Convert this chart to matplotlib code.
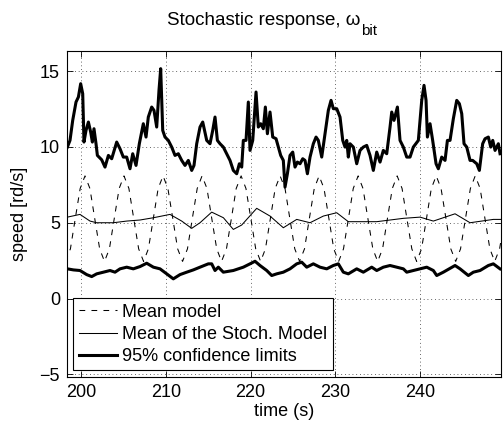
import numpy as np
import matplotlib
matplotlib.use("Agg")
import matplotlib.pyplot as plt

plt.rcParams['font.family'] = ['Liberation Sans', 'DejaVu Sans']

# mean model (dashed)
t_model = [198.17, 198.75, 199.32, 199.90, 200.47, 201.05, 201.62, 202.20, 202.77, 203.35,
           203.92, 204.50, 205.07, 205.65, 206.22, 206.80, 207.38, 207.95, 208.53, 209.10,
           209.68, 210.25, 210.83, 211.40, 211.98, 212.56, 213.13, 213.71, 214.28, 214.86,
           215.43, 216.01, 216.58, 217.16, 217.74, 218.31, 218.89, 219.46, 220.04, 220.61,
           221.19, 221.76, 222.34, 222.91, 223.49, 224.07, 224.64, 225.22, 225.79, 226.37,
           226.94, 227.52, 228.09, 228.67, 229.25, 229.82, 230.40, 230.97, 231.55, 232.12,
           232.70, 233.27, 233.85, 234.43, 235.00, 235.58, 236.15, 236.73, 237.30, 237.88,
           238.45, 239.03, 239.60, 240.18, 240.76, 241.33, 241.91, 242.48, 243.06, 243.63,
           244.21, 244.78, 245.36, 245.94, 246.51, 247.09, 247.66, 248.24, 248.81, 249.39,
           249.96]
v_model = [2.45, 3.28, 5.27, 7.26, 8.09, 7.26, 5.27, 3.28, 2.45, 3.28,
           5.27, 7.26, 8.09, 7.26, 5.27, 3.28, 2.45, 3.28, 5.27, 7.26,
           8.09, 7.26, 5.27, 3.28, 2.45, 3.28, 5.27, 7.26, 8.09, 7.26,
           5.27, 3.28, 2.45, 3.28, 5.27, 7.26, 8.09, 7.26, 5.27, 3.28,
           2.45, 3.28, 5.27, 7.26, 8.09, 7.26, 5.27, 3.28, 2.45, 3.28,
           5.27, 7.26, 8.09, 7.26, 5.27, 3.28, 2.45, 3.28, 5.27, 7.26,
           8.09, 7.26, 5.27, 3.28, 2.45, 3.28, 5.27, 7.26, 8.09, 7.26,
           5.27, 3.28, 2.45, 3.28, 5.27, 7.26, 8.09, 7.26, 5.27, 3.28,
           2.45, 3.28, 5.27, 7.26, 8.09, 7.26, 5.27, 3.28, 2.45, 3.28,
           5.27]

# mean of the stochastic model (thin)
t_mean = [198.39, 199.88, 201.06, 201.85, 203.81, 205.39, 206.96, 208.54, 210.50, 211.88,
          213.06, 214.04, 215.42, 216.80, 217.97, 218.96, 220.73, 222.30, 223.87, 225.45,
          227.02, 228.59, 230.17, 231.54, 234.89, 238.03, 240.00, 241.57, 244.13, 245.90,
          248.65, 249.67]
v_mean = [5.37, 5.55, 5.11, 5.00, 5.00, 5.11, 5.18, 5.33, 5.55, 5.11,
          4.63, 5.00, 5.70, 5.33, 4.56, 4.85, 5.95, 5.44, 4.67, 5.22,
          5.00, 5.44, 5.66, 5.07, 5.07, 5.29, 5.37, 5.11, 5.59, 5.00,
          5.22, 5.22]

# upper 95% limit
t_up = [198.39, 198.70, 199.02, 199.41, 199.69, 199.96, 200.20, 200.35, 200.59, 200.87,
        201.14, 201.34, 201.53, 201.77, 201.93, 202.44, 202.83, 203.23, 203.62, 204.21,
        204.60, 204.99, 205.39, 205.78, 206.10, 206.49, 206.88, 207.35, 207.67, 207.94,
        208.34, 208.61, 208.93, 209.20, 209.40, 209.64, 209.91, 210.30, 210.70, 211.09,
        211.48, 211.88, 212.27, 212.66, 213.06, 213.33, 213.65, 214.04, 214.36, 214.83,
        215.22, 215.54, 215.81, 216.09, 216.40, 216.79, 217.19, 217.58, 217.97, 218.37,
        218.68, 218.96, 219.15, 219.47, 219.74, 219.94, 220.26, 220.65, 220.92, 221.20,
        221.51, 221.75, 221.99, 222.30, 222.62, 223.01, 223.28, 223.56, 223.87, 224.07,
        224.35, 224.66, 224.98, 225.25, 225.53, 225.84, 226.16, 226.43, 226.71, 227.02,
        227.41, 227.73, 228.00, 228.40, 228.79, 229.18, 229.50, 229.77, 230.17, 230.56,
        230.88, 231.15, 231.35, 231.54, 231.74, 232.13, 232.53, 232.92, 233.31, 233.71,
        234.10, 234.49, 234.89, 235.28, 235.67, 236.07, 236.46, 236.66, 236.93, 237.33,
        237.64, 238.03, 238.43, 238.82, 239.21, 239.80, 240.20, 240.47, 240.71, 240.87,
        241.18, 241.49, 241.89, 242.16, 242.56, 242.95, 243.23, 243.54, 243.93, 244.33,
        244.64, 244.92, 245.19, 245.51, 245.90, 246.21, 246.69, 247.00, 247.39, 247.67,
        248.06, 248.34, 248.58, 248.85, 249.24, 249.44]
v_up = [9.99, 10.43, 11.75, 12.96, 13.29, 14.17, 13.51, 10.32, 11.09, 11.64,
        10.98, 10.32, 11.20, 10.21, 9.44, 9.15, 8.67, 9.44, 9.22, 10.32,
        9.88, 9.33, 9.33, 8.56, 9.55, 8.78, 10.21, 11.53, 10.65, 11.97,
        12.63, 12.41, 11.31, 13.73, 15.16, 11.09, 10.65, 10.43, 9.99, 9.44,
        9.55, 9.11, 8.78, 9.11, 8.45, 8.78, 10.21, 11.31, 11.64, 10.43,
        10.21, 11.09, 11.97, 10.43, 10.21, 9.99, 9.55, 9.11, 8.45, 8.23,
        8.89, 8.67, 10.43, 10.43, 12.96, 9.77, 10.43, 13.62, 11.31, 11.53,
        11.20, 12.63, 10.87, 12.30, 10.65, 10.54, 9.99, 9.44, 9.11, 7.35,
        8.23, 9.44, 9.66, 8.67, 9.00, 8.89, 9.22, 9.11, 8.23, 9.33,
        10.21, 10.65, 10.43, 9.33, 10.87, 12.41, 13.07, 12.52, 12.52, 11.97,
        10.43, 9.99, 10.43, 9.33, 10.21, 9.99, 8.89, 9.77, 9.99, 10.10,
        9.44, 8.45, 9.66, 9.00, 9.77, 9.55, 11.31, 12.30, 11.75, 12.63,
        10.43, 9.99, 9.33, 9.33, 9.99, 10.43, 13.07, 14.06, 13.07, 10.65,
        11.53, 10.43, 8.89, 8.56, 9.33, 9.11, 10.43, 10.43, 11.86, 13.07,
        12.85, 12.19, 10.21, 9.99, 9.11, 9.11, 8.89, 8.45, 10.21, 10.54,
        10.65, 9.99, 10.43, 9.77, 10.21, 9.55]

# lower 95% limit
t_low = [198.39, 199.10, 199.88, 200.67, 201.26, 201.85, 202.64, 203.42, 204.01, 204.60,
         205.39, 206.17, 206.96, 207.75, 208.54, 209.32, 210.11, 210.89, 211.68, 212.47,
         213.25, 214.04, 215.02, 215.42, 215.81, 216.20, 216.79, 217.97, 219.15, 219.94,
         220.53, 221.12, 221.91, 222.50, 223.09, 223.87, 224.66, 225.45, 226.04, 226.63,
         227.41, 228.20, 228.99, 229.77, 230.36, 230.95, 231.54, 232.53, 233.31, 234.30,
         234.89, 235.67, 236.46, 237.25, 238.03, 238.43, 239.21, 240.00, 240.79, 241.57,
         241.97, 242.75, 244.13, 244.72, 245.70, 246.29, 247.08, 248.06, 248.65, 249.44]
v_low = [1.96, 1.89, 1.85, 1.58, 1.45, 1.63, 1.74, 1.85, 1.74, 1.96,
         2.07, 1.96, 2.11, 2.33, 2.07, 1.96, 1.63, 1.30, 1.58, 1.74,
         1.89, 2.07, 2.29, 2.29, 1.85, 2.07, 1.74, 1.85, 2.07, 2.29,
         2.46, 2.18, 1.85, 1.52, 1.63, 1.74, 1.96, 2.29, 2.40, 2.07,
         2.29, 2.07, 1.96, 2.18, 2.29, 1.74, 1.63, 1.96, 1.74, 2.07,
         1.85, 2.07, 2.18, 2.07, 1.96, 1.74, 1.85, 1.96, 2.07, 1.85,
         1.52, 1.74, 2.18, 1.96, 1.52, 1.74, 1.85, 2.18, 2.29, 1.96]

xticks = [200, 210, 220, 230, 240]
yticks = [-5, 0, 5, 10, 15]

fig = plt.figure(figsize=(5.04, 4.29), dpi=100)
ax = fig.add_axes([0.133, 0.122, 0.861, 0.760])

ax.plot(t_model, v_model, color='k', lw=0.75, linestyle=(0, (5.5, 6)), label='Mean model')
ax.plot(t_mean, v_mean, color='k', lw=0.75, label='Mean of the Stoch. Model')
ax.plot(t_up, v_up, color='k', lw=2.2, label='95% confidence limits')
ax.plot(t_low, v_low, color='k', lw=2.2)

ax.set_xlim(198.35, 249.55)
ax.set_ylim(-5.15, 16.35)
ax.set_xticks(xticks)
ax.set_yticks(yticks)
ax.tick_params(direction='in', length=4, width=0.6, top=True, right=True, labelsize=13, pad=5)
ax.grid(True, linestyle=(0, (1, 3.5)), color='0.2', lw=0.6)
for s in ax.spines.values():
    s.set_linewidth(0.8)

# title: main text plus a larger-than-mathtext subscript, as in the original
main = fig.text(167 / 504, 1 - 25 / 429, 'Stochastic response, \u03c9', fontsize=13.5,
                ha='left', va='baseline')
ax.annotate('bit', xy=(1, 0), xycoords=main, xytext=(0.5, -4.5),
            textcoords='offset points', fontsize=11, ha='left', va='baseline')

ax.set_xlabel('time (s)', fontsize=13, labelpad=2)
ax.set_ylabel('speed [rd/s]', fontsize=13, labelpad=8)

leg = ax.legend(loc='lower left', fontsize=13, handlelength=2.1, handletextpad=0.3,
                labelspacing=0.28, borderpad=0.3, borderaxespad=0.35, fancybox=False,
                framealpha=1, edgecolor='k')
leg.get_frame().set_linewidth(0.8)

fig.savefig('out.png', dpi=100)
